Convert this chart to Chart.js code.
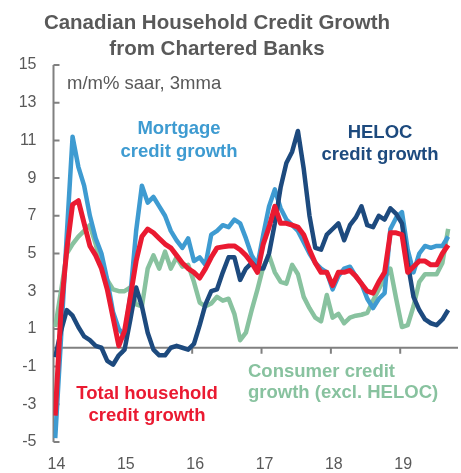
<!DOCTYPE html>
<html>
<head>
<meta charset="utf-8">
<title>Canadian Household Credit Growth</title>
<script src="https://cdn.jsdelivr.net/npm/chart.js@4.4.1/dist/chart.umd.min.js"></script>
<style>
  html, body { margin: 0; padding: 0; background: #fff; }
</style>
</head>
<body>
<canvas id="creditChart" width="461" height="473"></canvas>
<script>
// Monthly series, Jan 2014 onward (m/m% saar, 3mma)
const mortgage = [-4.8, 0.5, 6.0, 11.2, 9.6, 8.6, 7.0, 5.8, 5.0, 3.6, 1.9, 1.0, 0.6, 2.8, 6.2, 8.6, 7.7, 8.0, 7.5, 7.0,
    6.2, 5.7, 5.3, 5.8, 4.6, 4.8, 4.4, 6.0, 6.2, 6.5, 6.4, 6.8, 6.6, 5.8, 4.9, 4.4, 6.0, 7.5, 8.4, 7.4,
    6.8, 6.5, 6.2, 5.6, 5.0, 4.5, 4.2, 4.0, 3.1, 3.8, 4.2, 4.3, 3.8, 3.4, 2.6, 2.1, 2.6, 2.9, 6.3, 6.9,
    7.2, 5.2, 4.0, 5.0, 5.4, 5.3, 5.4, 5.4, 5.9];
const heloc = [-0.5, 0.9, 2.0, 1.7, 1.1, 0.6, 0.4, 0.1, 0.0, -0.7, -0.9, -0.4, -0.1, 1.5, 3.2, 2.2, 0.8, -0.1, -0.4, -0.4,
    0.0, 0.1, 0.0, -0.1, 0.2, 1.2, 2.3, 3.0, 3.1, 4.0, 4.8, 4.8, 3.6, 4.2, 4.5, 4.2, 4.2, 5.0, 6.6, 8.5,
    9.8, 10.4, 11.5, 9.5, 7.0, 5.3, 5.2, 6.0, 6.3, 6.6, 5.7, 6.5, 6.9, 7.5, 6.5, 6.4, 7.0, 6.8, 7.4, 7.1,
    6.6, 4.5, 2.7, 2.0, 1.5, 1.3, 1.2, 1.5, 2.0];
const totalHousehold = [-3.6, 2.0, 5.2, 7.6, 7.8, 6.6, 5.4, 4.9, 4.2, 3.1, 1.6, 0.1, 0.9, 2.7, 4.6, 5.9, 6.3, 6.1, 5.8, 5.5,
    5.3, 4.9, 4.5, 4.2, 4.0, 3.7, 4.2, 4.8, 5.3, 5.35, 5.4, 5.4, 5.2, 4.9, 4.5, 4.0, 5.5, 6.4, 7.5, 6.6,
    6.6, 6.5, 6.4, 6.0, 5.2, 4.5, 4.0, 4.0, 3.3, 4.0, 4.0, 4.1, 3.8, 3.4, 3.0, 2.9, 3.5, 4.0, 6.1, 6.1,
    6.0, 4.0, 4.3, 4.6, 4.6, 4.4, 4.4, 5.0, 5.45];
const consumer = [1.1, 3.0, 5.0, 5.5, 5.9, 6.2, 6.5, 5.5, 4.4, 3.6, 3.1, 3.0, 3.0, 3.2, 2.3, 2.2, 4.2, 4.9, 4.2, 5.1,
    4.2, 4.8, 4.3, 4.4, 3.5, 2.4, 2.2, 2.35, 2.7, 2.5, 2.6, 1.8, 0.4, 0.8, 2.0, 3.1, 4.3, 4.9, 4.0, 3.5,
    3.4, 4.4, 3.9, 2.7, 2.1, 1.6, 1.4, 2.8, 1.6, 1.8, 1.3, 1.6, 1.7, 1.75, 1.85, 2.5, 3.1, 3.7, 4.2, 2.6,
    1.1, 1.2, 2.2, 3.5, 3.9, 3.9, 3.9, 4.5, 6.3];

// January of each year, as a month offset from Jan 2014
const yearTicks = [0, 12, 24, 36, 48, 60];
const yearLabels = ['14', '15', '16', '17', '18', '19'];
const yTicks = [-5, -3, -1, 1, 3, 5, 7, 9, 11, 13, 15];

const FONT = "'Liberation Sans', Arial, Helvetica, sans-serif";
const GREY = '#595959';
const AXIS = '#808080';
const colors = {
    mortgage: '#3e9bd1',
    heloc: '#1d4a7e',
    total: '#ea1a31',
    consumer: '#88c29f'
};

// each monthly point sits a little after the start of its month on the date axis
const MONTH_SHIFT = 0.3;
const toPoints = (values) => values.map((v, i) => ({ x: i + MONTH_SHIFT, y: v }));

// Y axis with inward ticks, plus the zero line carrying the year ticks
const axisLines = {
    id: 'axisLines',
    beforeDatasetsDraw(chart) {
        const { ctx, chartArea, scales: { x, y } } = chart;
        const left = chartArea.left;
        const y0 = y.getPixelForValue(0);
        ctx.save();
        ctx.strokeStyle = AXIS;
        ctx.lineWidth = 2;
        ctx.beginPath();
        ctx.moveTo(left, y.getPixelForValue(yTicks[yTicks.length - 1]));
        ctx.lineTo(left, y.getPixelForValue(yTicks[0]));
        yTicks.forEach(v => {
            const py = y.getPixelForValue(v);
            ctx.moveTo(left, py);
            ctx.lineTo(left + 6, py);
        });
        ctx.moveTo(left, y0);
        ctx.lineTo(chartArea.right, y0);
        yearTicks.forEach(v => {
            const px = x.getPixelForValue(v);
            ctx.moveTo(px, y0);
            ctx.lineTo(px, y0 + 6);
        });
        ctx.stroke();
        ctx.restore();
    }
};

// Title, units note and the series labels written on the plot
const chartText = {
    id: 'chartText',
    afterDraw(chart) {
        const { ctx } = chart;
        const put = (text, px, py, color, weight, size, align) => {
            ctx.font = `${weight} ${size}px ${FONT}`;
            ctx.fillStyle = color;
            ctx.textAlign = align;
            ctx.textBaseline = 'alphabetic';
            ctx.fillText(text, px, py);
        };
        ctx.save();
        put('Canadian Household Credit Growth', 217, 29, GREY, 'bold', 20.5, 'center');
        put('from Chartered Banks', 217, 55, GREY, 'bold', 20.5, 'center');
        put('m/m% saar, 3mma', 67, 89, GREY, 'normal', 18.5, 'left');

        put('Mortgage', 179, 134, colors.mortgage, 'bold', 18.5, 'center');
        put('credit growth', 179, 157, colors.mortgage, 'bold', 18.5, 'center');

        put('HELOC', 380, 138, colors.heloc, 'bold', 18.5, 'center');
        put('credit growth', 380, 160, colors.heloc, 'bold', 18.5, 'center');

        put('Total household', 147, 399, colors.total, 'bold', 18.5, 'center');
        put('credit growth', 147, 421, colors.total, 'bold', 18.5, 'center');

        put('Consumer credit', 248, 377, colors.consumer, 'bold', 18.5, 'left');
        put('growth (excl. HELOC)', 248, 398, colors.consumer, 'bold', 18.5, 'left');
        ctx.restore();
    }
};

const ctx = document.getElementById('creditChart').getContext('2d');
new Chart(ctx, {
    type: 'line',
    data: {
        // first dataset is drawn on top
        datasets: [
            { label: 'Total household credit growth', data: toPoints(totalHousehold), borderColor: colors.total, borderWidth: 5 },
            { label: 'HELOC credit growth', data: toPoints(heloc), borderColor: colors.heloc, borderWidth: 4.5 },
            { label: 'Mortgage credit growth', data: toPoints(mortgage), borderColor: colors.mortgage, borderWidth: 4.5 },
            { label: 'Consumer credit growth (excl. HELOC)', data: toPoints(consumer), borderColor: colors.consumer, borderWidth: 4.5 }
        ]
    },
    options: {
        responsive: false,
        animation: false,
        layout: { padding: { top: 65, right: 3, bottom: 0, left: 0 } },
        elements: {
            point: { radius: 0 },
            line: { tension: 0, fill: false, borderJoinStyle: 'round', borderCapStyle: 'butt' }
        },
        plugins: {
            legend: { display: false },
            tooltip: { enabled: false }
        },
        scales: {
            x: {
                type: 'linear',
                min: 0,
                max: 70,
                grid: { display: false, drawTicks: false },
                border: { display: false },
                afterBuildTicks: (scale) => { scale.ticks = yearTicks.map(v => ({ value: v })); },
                afterFit: (scale) => { scale.height = 31; },
                ticks: {
                    autoSkip: false,
                    maxRotation: 0,
                    padding: 13,
                    labelOffset: 3,
                    color: GREY,
                    font: { family: FONT, size: 16 },
                    callback: (value, index) => yearLabels[index]
                }
            },
            y: {
                min: -5,
                max: 15,
                grid: { display: false, drawTicks: false },
                border: { display: false },
                afterBuildTicks: (scale) => { scale.ticks = yTicks.map(v => ({ value: v })); },
                afterFit: (scale) => { scale.width = 53.5; },
                ticks: {
                    padding: 17,
                    color: GREY,
                    font: { family: FONT, size: 16 }
                }
            }
        }
    },
    plugins: [axisLines, chartText]
});
</script>
</body>
</html>
